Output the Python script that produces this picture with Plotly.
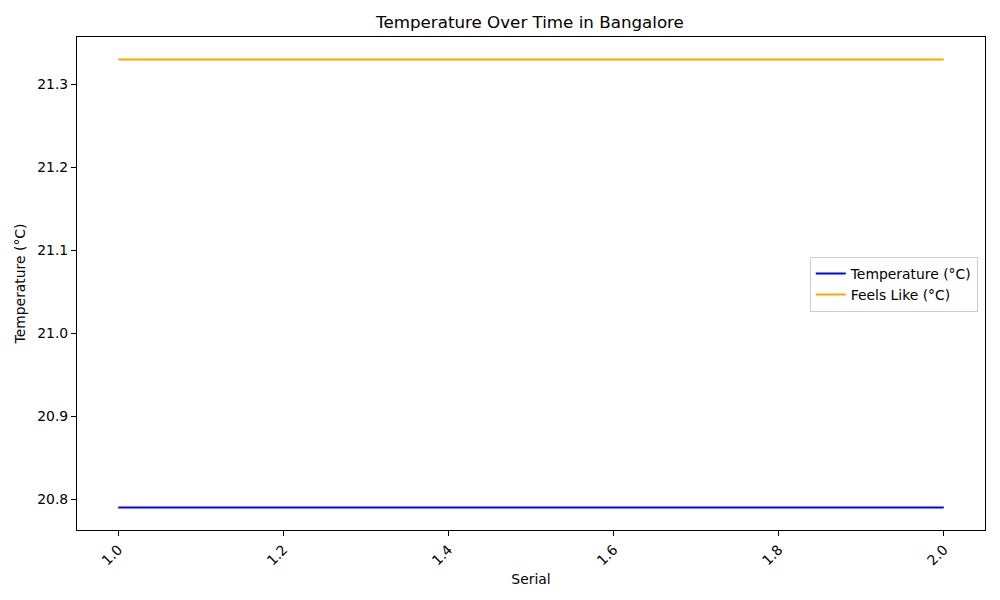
import plotly.graph_objects as go

# values
serial = [1, 2]
temperature = [20.79, 20.79]
feels_like = [21.33, 21.33]

FONT = 'DejaVu Sans'
FS = 13.9  # 10pt at 100 dpi

fig = go.Figure()
fig.add_trace(go.Scatter(x=serial, y=temperature, mode='lines', name='Temperature (°C)',
                         line=dict(color='blue', width=2)))
fig.add_trace(go.Scatter(x=serial, y=feels_like, mode='lines', name='Feels Like (°C)',
                         line=dict(color='orange', width=2)))

axis_style = dict(showline=True, linecolor='black', linewidth=1, mirror=True,
                  ticks='outside', ticklen=5, tickcolor='black', showgrid=False,
                  zeroline=False, tickformat='.1f', tickfont=dict(size=FS, color='black'))

# page is drawn with an 8px body offset, margins account for it
fig.update_layout(
    width=1000, height=600,
    margin=dict(l=67, r=23, t=29, b=78),
    paper_bgcolor='white', plot_bgcolor='white',
    font=dict(family=FONT, size=FS, color='black'),
    title=dict(text='Temperature Over Time in Bangalore', x=0.522, xanchor='center',
               y=0.977, yanchor='middle', font=dict(size=16.7)),
    xaxis=dict(range=[0.95, 2.05], dtick=0.2, tickangle=-45,
               title=dict(text='Serial', standoff=6, font=dict(size=FS)), **axis_style),
    yaxis=dict(range=[20.763, 21.357], dtick=0.1,
               title=dict(text='Temperature (°C)', standoff=8, font=dict(size=FS)), **axis_style),
    legend=dict(x=0.992, xanchor='right', y=0.498, yanchor='middle',
                bgcolor='white', bordercolor='#cccccc', borderwidth=1,
                font=dict(size=FS)),
    showlegend=True,
)

fig.write_html("out.html")
